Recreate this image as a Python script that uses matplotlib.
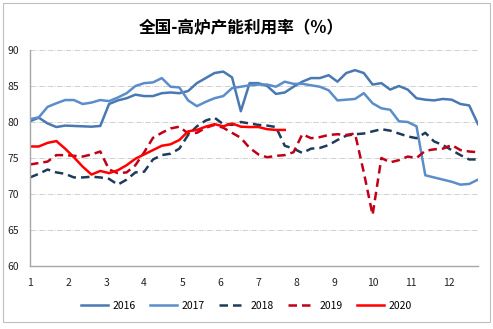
import matplotlib
matplotlib.use('Agg')
import matplotlib.pyplot as plt
from matplotlib.patches import Rectangle

plt.rcParams['font.family'] = ['Noto Sans CJK SC', 'DejaVu Sans']

# weekly readings (week index 0..51), month ticks every 52/12 weeks
months = list(range(1, 13))
y2016 = [80.1, 80.6, 79.8, 79.3, 79.5, 79.45, 79.4, 79.35, 79.45, 82.5,
         83.0, 83.3, 83.8, 83.6, 83.6, 84.0, 84.1, 84.0, 84.3, 85.4,
         86.1, 86.8, 87.0, 86.2, 81.5, 85.4, 85.4, 85.0, 83.9, 84.1,
         84.9, 85.6, 86.1, 86.1, 86.5, 85.6, 86.8, 87.2, 86.8, 85.2,
         85.4, 84.5, 85.0, 84.5, 83.3, 83.1, 83.0, 83.2, 83.1, 82.5,
         82.3, 79.7]
y2017 = [80.4, 80.65, 82.1, 82.6, 83.05, 83.05, 82.5, 82.7, 83.05, 82.9,
         83.4, 84.0, 85.0, 85.4, 85.5, 86.1, 84.9, 84.8, 83.0, 82.2,
         82.8, 83.3, 83.6, 84.7, 84.9, 85.1, 85.2, 85.2, 84.9, 85.6,
         85.3, 85.3, 85.1, 84.9, 84.4, 83.0, 83.1, 83.2, 84.0, 82.6,
         81.9, 81.7, 80.1, 80.0, 79.4, 72.6, 72.3, 72.0, 71.7, 71.3,
         71.4, 72.0]
y2018 = [72.3, 72.8, 73.4, 73.0, 72.8, 72.3, 72.3, 72.4, 72.3, 72.1,
         71.3, 72.0, 73.0, 73.1, 74.8, 75.4, 75.6, 76.3, 78.2, 79.4,
         80.2, 80.6, 79.7, 79.6, 80.0, 79.8, 79.6, 79.5, 79.3, 76.7,
         76.3, 75.7, 76.3, 76.4, 76.8, 77.5, 78.1, 78.3, 78.4, 78.7,
         79.0, 78.8, 78.4, 78.0, 77.75, 78.5, 77.3, 76.8, 76.1, 75.4,
         74.8, 74.8]
y2019 = [74.1, 74.3, 74.5, 75.4, 75.4, 75.3, 75.2, 75.5, 75.9, 73.4,
         72.9, 73.0, 74.0, 75.8, 77.8, 78.5, 79.1, 79.35, 78.4, 78.5,
         79.2, 79.6, 79.2, 78.5, 77.8, 76.4, 75.5, 75.1, 75.3, 75.4,
         75.8, 78.3, 77.75, 77.9, 78.2, 78.3, 78.2, 78.4, 73.0, 67.1,
         75.0, 74.4, 74.7, 75.2, 75.0, 76.0, 76.2, 76.3, 76.8, 76.1,
         75.9, 75.8]
y2020 = [76.6, 76.6, 77.1, 77.35, 76.3, 75.1, 73.8, 72.7, 73.2, 72.9,
         73.3, 74.0, 74.9, 75.5, 76.1, 76.7, 76.9, 77.5, 78.7, 78.9,
         79.35, 79.7, 79.4, 79.8, 79.35, 79.3, 79.3, 79.0, 78.9, 78.9]

fig = plt.figure(figsize=(4.93, 3.29), dpi=100)
fig.patches.append(Rectangle((3 / 493, 7 / 329), 487 / 493, 319 / 329,
                             transform=fig.transFigure, fill=False,
                             edgecolor='#BFBFBF', linewidth=0.8))
ax = fig.add_axes([30 / 493, 63 / 329, 448 / 493, 216 / 329])

ax.plot(range(len(y2016)), y2016, color='#4A78B2', lw=1.8, label='2016')
ax.plot(range(len(y2017)), y2017, color='#5B8DCB', lw=1.8, label='2017')
ax.plot(range(len(y2018)), y2018, color='#1F3B5C', lw=1.8, dashes=(3.4, 2.0), label='2018')
ax.plot(range(len(y2019)), y2019, color='#C00018', lw=1.8, dashes=(3.4, 2.0), label='2019')
ax.plot(range(len(y2020)), y2020, color='#FF0000', lw=1.8, label='2020')

ax.set_xlim(0, 51)
ax.set_ylim(60, 90)
ax.set_yticks(range(60, 91, 5))
ax.set_xticks([(m - 1) * 52 / 12 for m in months])
ax.set_xticklabels([str(m) for m in months])
ax.tick_params(length=0, labelsize=7.5, colors='#222222')
ax.tick_params(axis='x', pad=9)
ax.tick_params(axis='y', pad=8)
ax.grid(axis='y', color='#C8C8C8', linestyle='-.', linewidth=0.6)
for s in ['top', 'right']:
    ax.spines[s].set_visible(False)
for s in ['left', 'bottom']:
    ax.spines[s].set_color('#A6A6A6')
    ax.spines[s].set_linewidth(1.0)

fig.text(0.49, 0.915, '全国-高炉产能利用率（%）', ha='center', va='center',
         fontsize=12, fontweight='bold')
fig.legend(loc='center', bbox_to_anchor=(0.5, 0.07), ncol=5, frameon=False,
           fontsize=7.5, handlelength=2.6, columnspacing=1.4, handletextpad=0.4)

fig.savefig('out.png', dpi=100)
